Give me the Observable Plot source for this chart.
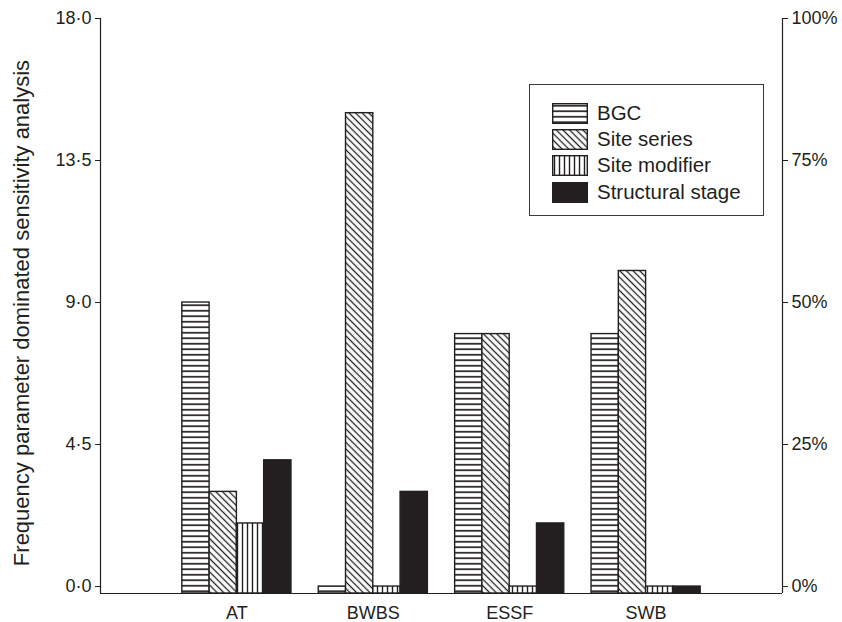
<!DOCTYPE html>
<html>
<head>
<meta charset="utf-8">
<script src="https://cdn.jsdelivr.net/npm/d3@7"></script>
<script src="https://cdn.jsdelivr.net/npm/@observablehq/plot@0.6"></script>
<style>
  body { margin: 0; background: #fff; }
  #wrap { position: relative; width: 842px; height: 622px; font-family: "Liberation Sans", Arial, Helvetica, sans-serif; color: #231f20; }
  #legend { position: absolute; left: 529px; top: 84px; width: 235px; height: 132px; box-sizing: border-box; border: 1.3px solid #3a3a3a; background: #fff; padding: 15px 0 0 22px; }
  .row { display: flex; align-items: center; height: 26.3px; }
  .row svg { flex: none; display: block; }
  .row span { margin-left: 9px; font-size: 20.5px; line-height: 1; white-space: nowrap; }
</style>
</head>
<body>
<svg width="0" height="0" style="position:absolute">
  <defs>
    <pattern id="pat-h" patternUnits="userSpaceOnUse" width="10" height="5.5">
      <rect width="10" height="5.5" fill="#fff"/>
      <line x1="0" x2="10" y1="2.75" y2="2.75" stroke="#231f20" stroke-width="1.7"/>
    </pattern>
    <pattern id="pat-d" patternUnits="userSpaceOnUse" width="4.7" height="10" patternTransform="rotate(-45)">
      <rect width="4.7" height="10" fill="#fff"/>
      <line x1="2.35" x2="2.35" y1="0" y2="10" stroke="#231f20" stroke-width="1.3"/>
    </pattern>
    <pattern id="pat-v" patternUnits="userSpaceOnUse" width="5" height="10">
      <rect width="5" height="10" fill="#fff"/>
      <line x1="2.5" x2="2.5" y1="0" y2="10" stroke="#231f20" stroke-width="1.4"/>
    </pattern>
  </defs>
</svg>
<div id="wrap"><div id="legend"></div></div>
<script>
// ---- data ----
const groups = ["AT", "BWBS", "ESSF", "SWB"];
const series = ["BGC", "Site series", "Site modifier", "Structural stage"];
const bgc = [9, 0, 8, 8];
const siteSeries = [3, 15, 8, 10];
const siteModifier = [2, 0, 0, 0];
const structuralStage = [4, 3, 2, 0];
const yTicks = [0, 4.5, 9, 13.5, 18];
const pctLabels = ["0%", "25%", "50%", "75%", "100%"];
const yLabel = "Frequency parameter dominated sensitivity analysis";

// ---- layout constants ----
const lead = 3;        // empty slots before first group
const groupStep = 5;   // 4 bars + 1 gap
const nSlots = 25;
const yMin = -0.22;    // baseline sits slightly below zero
const ink = "#231f20";
const patterns = ["url(#pat-h)", "url(#pat-d)", "url(#pat-v)", ink];

const valuesBySeries = [bgc, siteSeries, siteModifier, structuralStage];
const data = [];
groups.forEach((g, gi) => {
  series.forEach((s, si) => {
    data.push({ group: g, series: s, value: valuesBySeries[si][gi], slot: lead + gi * groupStep + si });
  });
});
const groupCenters = groups.map((g, gi) => lead + gi * groupStep + series.length / 2);

const chart = Plot.plot({
  width: 842,
  height: 622,
  marginLeft: 100,
  marginRight: 60,
  marginTop: 18,
  marginBottom: 29,
  style: { fontFamily: '"Liberation Sans", Arial, Helvetica, sans-serif', fontSize: "18px", color: ink, background: "transparent", overflow: "visible" },
  x: { domain: [0, nSlots], axis: null },
  y: { domain: [yMin, 18], axis: null },
  color: { type: "ordinal", domain: series, range: patterns },
  marks: [
    Plot.rectY(data, { x1: "slot", x2: d => d.slot + 1, y1: yMin, y2: "value", fill: "series", stroke: ink, strokeWidth: 1.4 }),
    Plot.ruleX([0, nSlots], { y1: yMin, y2: 18, stroke: ink, strokeWidth: 1.2 }),
    Plot.ruleY([yMin], { stroke: ink, strokeWidth: 1.2 }),
    Plot.axisY({ anchor: "left", ticks: yTicks, tickFormat: d => d.toFixed(1).replace(".", "·"), label: null, tickSize: 5, tickPadding: 4 }),
    Plot.axisY({ anchor: "right", ticks: yTicks, tickFormat: d => pctLabels[yTicks.indexOf(d)], label: null, tickSize: 5, tickPadding: 4 }),
    Plot.axisX({ ticks: groupCenters, tickFormat: d => groups[groupCenters.indexOf(d)], tickSize: 0, tickPadding: 13, label: null }),
    Plot.text([yLabel], { text: d => d, frameAnchor: "left", textAnchor: "middle", rotate: -90, dx: -79, dy: 7, fontSize: 22 })
  ]
});
document.getElementById("wrap").prepend(chart);

// legend
const legend = document.getElementById("legend");
series.forEach((s, si) => {
  const row = document.createElement("div");
  row.className = "row";
  row.innerHTML = `<svg width="36" height="21"><rect x="0.7" y="0.7" width="34.6" height="19.6" fill="${patterns[si]}" stroke="${ink}" stroke-width="1.4"/></svg><span>${s}</span>`;
  legend.appendChild(row);
});
</script>
</body>
</html>
